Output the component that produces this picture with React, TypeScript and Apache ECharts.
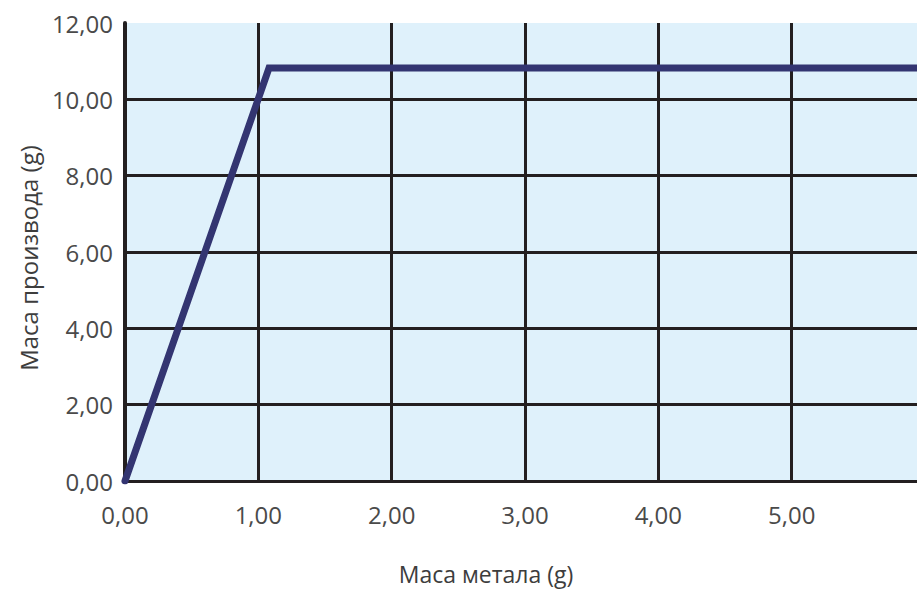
import React, { useEffect, useRef } from "react";
import * as echarts from "echarts";

const xTicks = [0, 1, 2, 3, 4, 5];
const yTicks = [0, 2, 4, 6, 8, 10, 12];
const metalMass = [0, 1.08, 5.94];
const productMass = [0, 10.82, 10.82];
const xTitle = "Маса метала (g)";
const yTitle = "Маса производа (g)";

const fmt = (v: number) => v.toFixed(2).replace(".", ",");

export default function App() {
  const ref = useRef<HTMLDivElement>(null);
  useEffect(() => {
    if (!ref.current) return;
    const chart = echarts.init(ref.current, null, { renderer: "svg" });
    const font = "'Open Sans', 'Noto Sans', sans-serif";
    const gridColor = "#231f20";
    chart.setOption({
      animation: false,
      backgroundColor: "#ffffff",
      grid: {
        left: 125,
        right: 0,
        top: 23,
        bottom: 110,
        show: true,
        backgroundColor: "#dff1fb",
        borderWidth: 0,
      },
      xAxis: {
        type: "value",
        min: xTicks[0],
        max: 5.94,
        interval: 1,
        axisLine: { show: true, lineStyle: { color: gridColor, width: 3 } },
        axisTick: { show: false },
        axisLabel: {
          formatter: (v: number) => fmt(v),
          showMaxLabel: false,
          color: "#4a4a4a",
          fontFamily: font,
          fontSize: 24,
          margin: 21,
        },
        splitLine: {
          show: true,
          lineStyle: {
            color: [gridColor, gridColor, gridColor, gridColor, gridColor, gridColor, "rgba(0,0,0,0)"],
            width: 3,
          },
        },
      },
      yAxis: {
        type: "value",
        min: yTicks[0],
        max: yTicks[yTicks.length - 1],
        interval: 2,
        axisLine: { show: true, lineStyle: { color: gridColor, width: 4 } },
        axisTick: { show: false },
        axisLabel: {
          formatter: (v: number) => fmt(v),
          color: "#4a4a4a",
          fontFamily: font,
          fontSize: 24,
          margin: 12,
        },
        splitLine: {
          show: true,
          lineStyle: {
            color: yTicks.map((t, i) => (i === yTicks.length - 1 ? "rgba(0,0,0,0)" : gridColor)),
            width: 3,
          },
        },
      },
      series: [
        {
          type: "line",
          data: metalMass.map((x, i) => [x, productMass[i]]),
          showSymbol: false,
          symbol: "none",
          lineStyle: { color: "#333571", width: 7, cap: "round", join: "miter" },
          z: 5,
        },
      ],
      graphic: [
        {
          type: "text",
          x: 486,
          y: 574,
          style: {
            text: xTitle,
            fill: "#3d3d3d",
            font: `23px ${font}`,
            textAlign: "center",
            textVerticalAlign: "middle",
          },
        },
        {
          type: "text",
          x: 28,
          y: 258,
          rotation: Math.PI / 2,
          style: {
            text: yTitle,
            fill: "#3d3d3d",
            font: `24px ${font}`,
            textAlign: "center",
            textVerticalAlign: "middle",
          },
        },
      ],
    });
    return () => chart.dispose();
  }, []);
  return (
    <div
      ref={ref}
      style={{ position: "fixed", left: 0, top: 0, width: 917, height: 591 }}
    />
  );
}
